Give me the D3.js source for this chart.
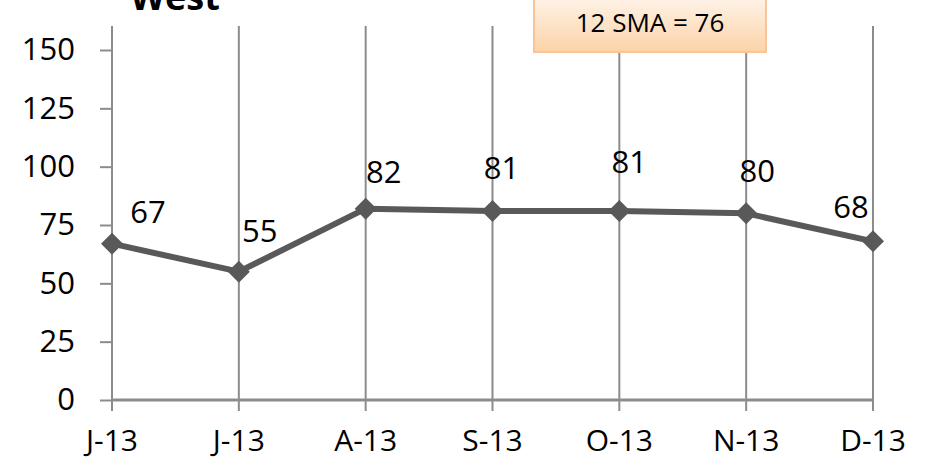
<!DOCTYPE html>
<html>
<head>
<meta charset="utf-8">
<script src="https://cdn.jsdelivr.net/npm/d3@7"></script>
<style>
  html, body { margin: 0; padding: 0; background: #fff; }
  svg { display: block; font-family: "Open Sans", "Noto Sans", sans-serif; }
</style>
</head>
<body>
<svg id="chart" width="934" height="462"></svg>
<script>
// Monthly readings for the West region
const months = ["J-13", "J-13", "A-13", "S-13", "O-13", "N-13", "D-13"];
const values = [67, 55, 82, 81, 81, 80, 68];
const yTicks = [0, 25, 50, 75, 100, 125, 150];
const title = "West";
const smaText = "12 SMA = 76";

// Label nudges (px) relative to each marker, as placed in the workbook
const labelOffsets = [[36, -21], [21, -30], [18, -26], [9, -32], [10, -38], [11, -31], [-22, -23]];

const svg = d3.select("#chart");
const margin = { left: 112, right: 61, top: 50, bottom: 62 };
const W = 934, H = 462;
const FS = 31;

const x = d3.scalePoint().domain(d3.range(months.length)).range([margin.left, W - margin.right]);
const y = d3.scaleLinear().domain([0, 150]).range([H - margin.bottom, margin.top]);

// Background gradient for the SMA box
const defs = svg.append("defs");
const grad = defs.append("linearGradient").attr("id", "smaFill").attr("x1", 0).attr("y1", 0).attr("x2", 0).attr("y2", 1);
grad.append("stop").attr("offset", "0%").attr("stop-color", "#fef4ea");
grad.append("stop").attr("offset", "100%").attr("stop-color", "#fcd3a8");

// Vertical gridlines with ticks below the baseline
svg.append("g")
  .selectAll("line")
  .data(d3.range(months.length))
  .join("line")
  .attr("x1", i => x(i)).attr("x2", i => x(i))
  .attr("y1", 26).attr("y2", y(0) + 11)
  .attr("stroke", "#8c8c8c").attr("stroke-width", 2);

// Y axis
const yAxis = svg.append("g")
  .attr("transform", `translate(${margin.left},0)`)
  .call(d3.axisLeft(y).tickValues(yTicks).tickSize(12).tickPadding(25).tickFormat(d3.format("d")));
yAxis.select(".domain").attr("stroke", "#8c8c8c").attr("stroke-width", 2).attr("d", `M0,26V${y(0)}`);
yAxis.selectAll(".tick line").attr("stroke", "#8c8c8c").attr("stroke-width", 2);
yAxis.selectAll(".tick text").attr("font-size", FS).attr("fill", "#000").attr("font-family", "Open Sans, sans-serif");

// X baseline
svg.append("line")
  .attr("x1", x(0)).attr("x2", x(months.length - 1))
  .attr("y1", y(0)).attr("y2", y(0))
  .attr("stroke", "#8c8c8c").attr("stroke-width", 3);

// X labels
svg.append("g")
  .selectAll("text")
  .data(months)
  .join("text")
  .attr("x", (d, i) => x(i)).attr("y", 451)
  .attr("text-anchor", "middle").attr("font-size", 30).attr("fill", "#000")
  .text(d => d);

// Series line
svg.append("path")
  .datum(values)
  .attr("fill", "none").attr("stroke", "#595959").attr("stroke-width", 6).attr("stroke-linejoin", "round")
  .attr("d", d3.line().x((d, i) => x(i)).y(d => y(d)));

// Diamond markers
svg.append("g")
  .selectAll("path")
  .data(values)
  .join("path")
  .attr("transform", (d, i) => `translate(${x(i)},${y(d)})`)
  .attr("d", "M0,-11L11,0L0,11L-11,0Z")
  .attr("fill", "#595959");

// Data labels
svg.append("g")
  .selectAll("text")
  .data(values)
  .join("text")
  .attr("x", (d, i) => x(i) + labelOffsets[i][0])
  .attr("y", (d, i) => y(d) + labelOffsets[i][1])
  .attr("text-anchor", "middle").attr("font-size", FS).attr("fill", "#000")
  .text(d => d);

// Title (partly above the top edge)
svg.append("text")
  .attr("x", 175).attr("y", 10)
  .attr("text-anchor", "middle").attr("font-size", 36).attr("font-weight", "bold").attr("fill", "#000")
  .text(title);

// SMA callout box
svg.append("rect")
  .attr("x", 534).attr("y", -5).attr("width", 232).attr("height", 57)
  .attr("fill", "url(#smaFill)").attr("stroke", "#f9c497").attr("stroke-width", 2);
svg.append("text")
  .attr("x", 650).attr("y", 32)
  .attr("text-anchor", "middle").attr("font-size", 26).attr("fill", "#000")
  .text(smaText);
</script>
</body>
</html>
